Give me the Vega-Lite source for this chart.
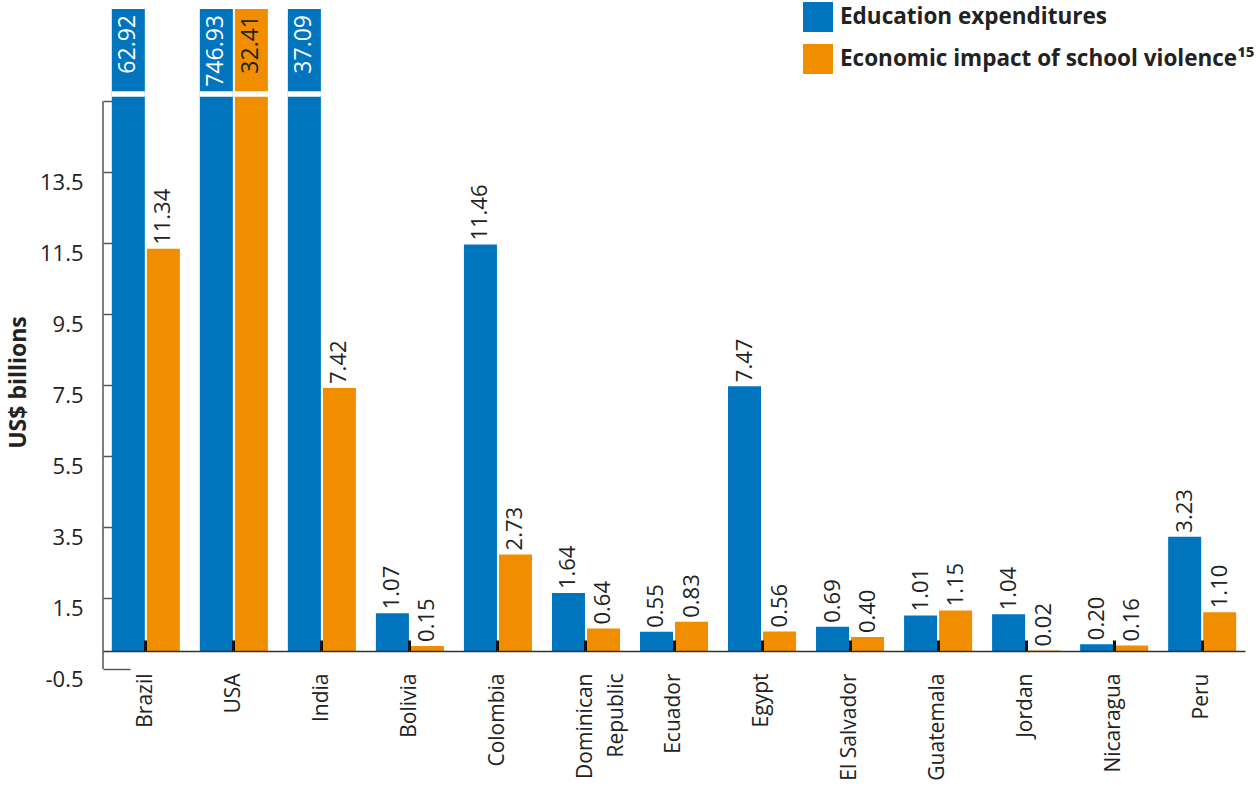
{
  "$schema": "https://vega.github.io/schema/vega-lite/v6.json",
  "width": 1142,
  "height": 660,
  "autosize": {"type": "none"},
  "padding": {"left": 103, "top": 9, "right": 14, "bottom": 118},
  "background": "white",
  "config": {"view": {"stroke": null}, "font": "Open Sans"},
  "data": {"values": [
    {"country": "Brazil", "series": "Education expenditures", "value": 62.92},
    {"country": "Brazil", "series": "Economic impact of school violence¹⁵", "value": 11.34},
    {"country": "USA", "series": "Education expenditures", "value": 746.93},
    {"country": "USA", "series": "Economic impact of school violence¹⁵", "value": 32.41},
    {"country": "India", "series": "Education expenditures", "value": 37.09},
    {"country": "India", "series": "Economic impact of school violence¹⁵", "value": 7.42},
    {"country": "Bolivia", "series": "Education expenditures", "value": 1.07},
    {"country": "Bolivia", "series": "Economic impact of school violence¹⁵", "value": 0.15},
    {"country": "Colombia", "series": "Education expenditures", "value": 11.46},
    {"country": "Colombia", "series": "Economic impact of school violence¹⁵", "value": 2.73},
    {"country": "Dominican Republic", "series": "Education expenditures", "value": 1.64},
    {"country": "Dominican Republic", "series": "Economic impact of school violence¹⁵", "value": 0.64},
    {"country": "Ecuador", "series": "Education expenditures", "value": 0.55},
    {"country": "Ecuador", "series": "Economic impact of school violence¹⁵", "value": 0.83},
    {"country": "Egypt", "series": "Education expenditures", "value": 7.47},
    {"country": "Egypt", "series": "Economic impact of school violence¹⁵", "value": 0.56},
    {"country": "El Salvador", "series": "Education expenditures", "value": 0.69},
    {"country": "El Salvador", "series": "Economic impact of school violence¹⁵", "value": 0.40},
    {"country": "Guatemala", "series": "Education expenditures", "value": 1.01},
    {"country": "Guatemala", "series": "Economic impact of school violence¹⁵", "value": 1.15},
    {"country": "Jordan", "series": "Education expenditures", "value": 1.04},
    {"country": "Jordan", "series": "Economic impact of school violence¹⁵", "value": 0.02},
    {"country": "Nicaragua", "series": "Education expenditures", "value": 0.20},
    {"country": "Nicaragua", "series": "Economic impact of school violence¹⁵", "value": 0.16},
    {"country": "Peru", "series": "Education expenditures", "value": 3.23},
    {"country": "Peru", "series": "Economic impact of school violence¹⁵", "value": 1.10}
  ]},
  "layer": [
    {
      "mark": {"type": "bar"},
      "encoding": {
        "x": {
          "field": "country", "type": "nominal", "sort": null,
          "scale": {"paddingInner": 0.227, "paddingOuter": 0.1},
          "axis": {
            "title": null, "labelAngle": -90, "labelFontSize": 21, "labelColor": "#222",
            "labelPadding": 33, "labelLineHeight": 31,
            "labelExpr": "datum.label == 'Dominican Republic' ? ['Dominican', 'Republic'] : datum.label",
            "offset": -18, "domainColor": "#333", "domainWidth": 1.5,
            "tickSize": -11, "tickColor": "#111", "tickWidth": 3, "zindex": 1
          }
        },
        "xOffset": {
          "field": "series", "type": "nominal",
          "sort": ["Education expenditures", "Economic impact of school violence¹⁵"],
          "scale": {"paddingInner": 0.057, "paddingOuter": 0}
        },
        "y": {
          "field": "value", "type": "quantitative",
          "scale": {"domain": [-0.5, 18.1], "clamp": true, "nice": false, "zero": false},
          "axis": {
            "values": [-0.5, 1.5, 3.5, 5.5, 7.5, 9.5, 11.5, 13.5, 15.5],
            "labelExpr": "datum.value > 15 ? '' : (datum.value < 0 ? '-0.5' : format(datum.value, '.1f'))",
            "domain": false, "grid": false,
            "tickSize": {"condition": {"test": "datum.value < 0", "value": -27}, "value": -9},
            "tickColor": "#555", "tickWidth": 1.5,
            "labelFontSize": 22, "labelColor": "#222", "labelBaseline": "top",
            "labelPadding": {"condition": {"test": "datum.value < 0", "value": 47}, "value": 29},
            "title": "US$ billions", "titleFontSize": 23, "titleFontWeight": "bold",
            "titleColor": "#222", "titleX": -85, "titleY": 373, "titleBaseline": "middle"
          }
        },
        "y2": {"datum": 0},
        "color": {
          "field": "series", "type": "nominal",
          "sort": ["Education expenditures", "Economic impact of school violence¹⁵"],
          "scale": {"domain": ["Education expenditures", "Economic impact of school violence¹⁵"], "range": ["#0075be", "#f18e00"]},
          "legend": {
            "title": null, "orient": "none", "legendX": 700, "legendY": -7,
            "symbolType": "square", "symbolSize": 900, "symbolStrokeWidth": 0,
            "labelFontSize": 22.5, "labelFontWeight": "bold", "labelColor": "#222",
            "labelOffset": 7, "rowPadding": 12, "padding": 0, "labelLimit": 600
          }
        }
      }
    },
    {
      "transform": [{"filter": "datum.value > 15.5"}],
      "mark": {"type": "bar", "color": "white"},
      "encoding": {
        "x": {"field": "country", "type": "nominal", "sort": null},
        "xOffset": {"field": "series", "type": "nominal", "sort": ["Education expenditures", "Economic impact of school violence¹⁵"]},
        "y": {"datum": 15.63},
        "y2": {"datum": 15.78}
      }
    },
    {
      "transform": [{"filter": "datum.value <= 15.5"}],
      "mark": {"type": "text", "angle": -90, "align": "left", "baseline": "middle", "dx": 4, "fontSize": 22, "color": "#222"},
      "encoding": {
        "x": {"field": "country", "type": "nominal", "sort": null},
        "xOffset": {"field": "series", "type": "nominal", "sort": ["Education expenditures", "Economic impact of school violence¹⁵"]},
        "y": {"field": "value", "type": "quantitative"},
        "text": {"field": "value", "type": "quantitative", "format": ".2f"}
      }
    },
    {
      "transform": [{"filter": "datum.value > 15.5"}],
      "mark": {"type": "text", "angle": -90, "align": "right", "baseline": "middle", "dx": -6, "fontSize": 23},
      "encoding": {
        "x": {"field": "country", "type": "nominal", "sort": null},
        "xOffset": {"field": "series", "type": "nominal", "sort": ["Education expenditures", "Economic impact of school violence¹⁵"]},
        "y": {"field": "value", "type": "quantitative"},
        "text": {"field": "value", "type": "quantitative", "format": ".2f"},
        "color": {"condition": {"test": "datum.series == 'Education expenditures'", "value": "white"}, "value": "#222"}
      }
    },
    {
      "data": {"values": [{"axis": "y"}]},
      "mark": {"type": "rule", "color": "#555", "strokeWidth": 1.5},
      "encoding": {
        "x": {"value": 0},
        "y": {"datum": -0.5},
        "y2": {"datum": 15.5}
      }
    }
  ]
}
